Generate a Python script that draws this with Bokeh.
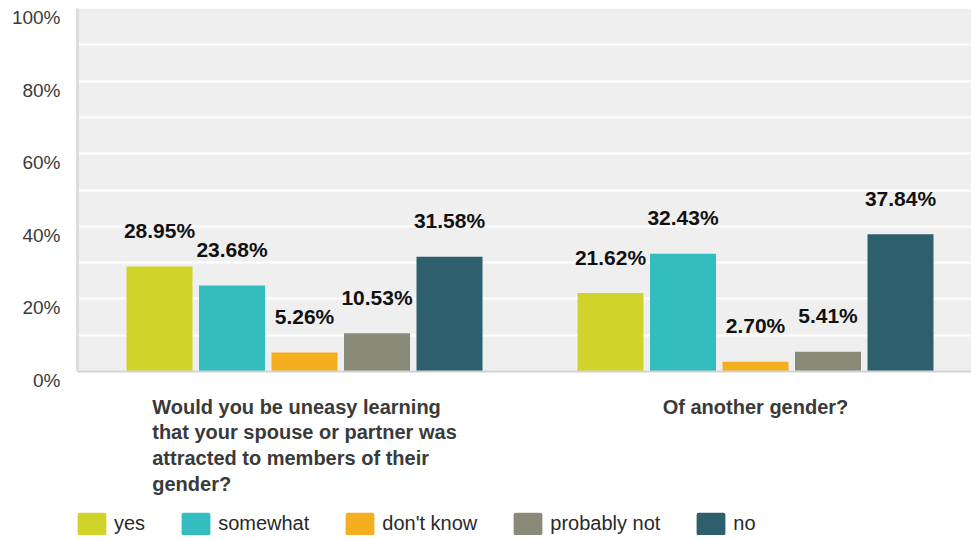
from bokeh.plotting import figure
from bokeh.models import (ColumnDataSource, Range1d, FixedTicker, LabelSet,
                          Legend, LegendItem, CustomJSTickFormatter, LinearAxis,
                          BoxAnnotation, Span)
from bokeh.layouts import column
from bokeh.core.properties import value
from bokeh.embed import file_html
from bokeh.resources import INLINE

# ---- data ----
questions = [
    "Would you be uneasy learning\nthat your spouse or partner was\nattracted to members of their\ngender?",
    "Of another gender?",
]
answers = ["yes", "somewhat", "don't know", "probably not", "no"]
yes = [28.95, 21.62]
somewhat = [23.68, 32.43]
dont_know = [5.26, 2.70]
probably_not = [10.53, 5.41]
no = [31.58, 37.84]
y_ticks = [0, 20, 40, 60, 80, 100]
grid_ticks = [0, 10, 20, 30, 40, 50, 60, 70, 80, 90, 100]

series = [yes, somewhat, dont_know, probably_not, no]
colors = ["#D0D42A", "#33BDBF", "#F6AE21", "#8A8A79", "#2E5F6C"]

# ---- layout / style ----
FONT = "Liberation Sans"
W = 971
TOP_H, BOT_H = 392, 148
LEFT = 77                  # frame left in px
PLOT_TOP = 8
PLOT_H = 363               # px for 0..100 %
PX_PER_GROUP = 451.0       # px between group centres
FIRST_CENTER = 304.0       # px of first group centre
LABEL_DROP = 9 * 100.0 / PLOT_H   # tick labels sit ~9px under their grid line
bar_width = 66 / PX_PER_GROUP
pitch = 72.5 / PX_PER_GROUP

xr = Range1d((LEFT - FIRST_CENTER) / PX_PER_GROUP, (W - FIRST_CENTER) / PX_PER_GROUP)

p = figure(width=W, height=TOP_H, output_backend="svg", toolbar_location=None,
           x_range=xr, y_range=Range1d(-LABEL_DROP, 100),
           min_border_left=LEFT, min_border_right=0, min_border_top=PLOT_TOP,
           min_border_bottom=TOP_H - PLOT_TOP - PLOT_H - 9)
p.border_fill_color = "white"
p.background_fill_color = "white"
p.outline_line_color = None
p.xaxis.visible = False

p.add_layout(BoxAnnotation(bottom=0, top=100, fill_color="#EFEFEF", fill_alpha=1,
                           line_color=None, level="image"))

p.xgrid.visible = False
p.ygrid.ticker = FixedTicker(ticks=grid_ticks)
p.ygrid.grid_line_color = "white"
p.ygrid.grid_line_width = 2

# axis line only, between 0 and 100
p.yaxis.ticker = FixedTicker(ticks=[])
p.yaxis.bounds = (0, 100)
p.yaxis.major_tick_line_color = None
p.yaxis.minor_tick_line_color = None
p.yaxis.major_label_standoff = 0
p.yaxis.major_label_text_font_size = "0px"
p.yaxis.axis_line_color = "#DCDCDC"
p.yaxis.axis_line_width = 3

# tick labels, drawn a little under their grid lines
lab_axis = LinearAxis(
    ticker=FixedTicker(ticks=[t - LABEL_DROP for t in y_ticks]),
    formatter=CustomJSTickFormatter(args=dict(d=LABEL_DROP),
                                    code="return (tick + d).toFixed(0) + '%';"),
    axis_line_color=None, major_tick_line_color=None, minor_tick_line_color=None,
    major_label_text_font=FONT, major_label_text_font_size="19px",
    major_label_text_color="#3A3A3A", major_label_standoff=11)
p.add_layout(lab_axis, "left")

for k, (name, vals, col) in enumerate(zip(answers, series, colors)):
    xs = [i + (k - 2) * pitch for i in range(len(questions))]
    src = ColumnDataSource(dict(x=xs, top=vals,
                                lab=["%.2f%%" % v for v in vals]))
    p.vbar(x="x", top="top", width=bar_width, bottom=0, source=src,
           fill_color=col, line_color=None)
    p.add_layout(LabelSet(x="x", y="top", text="lab", source=src,
                          text_align="center", text_baseline="middle",
                          y_offset=36, text_font=value(FONT),
                          text_font_size="21px", text_font_style="bold",
                          text_color="#111111"))

p.add_layout(Span(location=0, dimension="width", line_color="#D2D2D2",
                  line_width=2))

# ---- lower panel: category labels + legend ----
q = figure(width=W, height=BOT_H, output_backend="svg", toolbar_location=None,
           x_range=xr, y_range=Range1d(-BOT_H, 0),
           min_border_left=LEFT, min_border_right=0, min_border_top=0,
           min_border_bottom=0)
q.axis.visible = False
q.grid.visible = False
q.outline_line_color = None
q.background_fill_color = "white"
q.border_fill_color = "white"

csrc = ColumnDataSource(dict(x=list(range(len(questions))),
                             y=[0] * len(questions), t=questions))
q.text(x="x", y="y", text="t", source=csrc, anchor="top_center",
       text_align="left", text_baseline="top", y_offset=3,
       text_font=value(FONT), text_font_size="20px", text_font_style="bold",
       text_color="#3A3A3A", text_line_height=1.17)

# legend swatches: rounded squares (fill + thick round-joined outline);
# their own glyphs have no drawable extent, so only the legend shows them
nan = float("nan")
items = []
for name, col in zip(answers, colors):
    r = q.vbar(x=[nan], top=[nan], bottom=[nan], width=0.0001, fill_color=col,
               line_color=col, line_width=4, line_join="round")
    items.append(LegendItem(label=name, renderers=[r]))

legend = Legend(items=items, orientation="horizontal", location=(-1, 5),
                glyph_width=31, glyph_height=23, label_standoff=7, spacing=35,
                padding=0, margin=0, border_line_color=None,
                background_fill_alpha=0,
                label_text_font=FONT, label_text_font_size="20px",
                label_text_color="#2A2A2A")
q.add_layout(legend, "center")

layout = column(p, q, spacing=0)
open("out.html", "w").write(file_html(layout, INLINE))
